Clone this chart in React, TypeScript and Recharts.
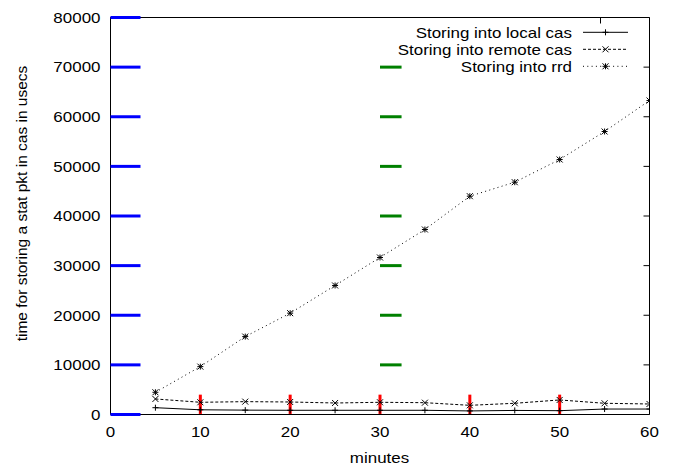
import React from 'react';
import { LineChart, Line, XAxis, YAxis, Legend, ReferenceLine } from 'recharts';

const minutes = [5, 10, 15, 20, 25, 30, 35, 40, 45, 50, 55, 60];
const localCas = [1370, 950, 880, 850, 850, 850, 850, 720, 820, 770, 1100, 1100];
const remoteCas = [3130, 2460, 2590, 2520, 2320, 2460, 2380, 1850, 2260, 2930, 2260, 2120];
const rrd = [4480, 9650, 15700, 20420, 26000, 31640, 37280, 43990, 46810, 51380, 57025, 63270];

const xTicks = [0, 10, 20, 30, 40, 50, 60];
const yTicks = [0, 10000, 20000, 30000, 40000, 50000, 60000, 70000, 80000];

const seriesNames = ['Storing into local cas', 'Storing into remote cas', 'Storing into rrd'];
const xLabel = 'minutes';
const yLabel = 'time for storing a stat pkt in cas in usecs';

const data = minutes.map((m, i) => ({ minute: m, local: localCas[i], remote: remoteCas[i], rrd: rrd[i] }));

const X_MAX = 60;
const Y_MAX = 80000;
const X_TICK_LEN = X_MAX * 0.04;
const Y_TICK_LEN = Y_MAX * 0.05;

const FONT = '"Liberation Sans", Arial, Helvetica, sans-serif';
const FS = 15;
const SX = 1.13;
const M = 3;
const TICK = 6;

type MarkerKind = 'plus' | 'cross' | 'star';

const markerPaths = (kind: MarkerKind, cx: number, cy: number) => {
  const p = `M${cx - M},${cy}L${cx + M},${cy}M${cx},${cy - M}L${cx},${cy + M}`;
  const c = `M${cx - M},${cy - M}L${cx + M},${cy + M}M${cx - M},${cy + M}L${cx + M},${cy - M}`;
  if (kind === 'plus') return p;
  if (kind === 'cross') return c;
  return p + c;
};

const makeDot = (kind: MarkerKind) => (props: any) => {
  const { cx, cy, index } = props;
  if (cx == null || cy == null) return <g key={`d-${kind}-${index}`} />;
  return <path key={`d-${kind}-${index}`} d={markerPaths(kind, cx, cy)} stroke="#000" strokeWidth={1} fill="none" />;
};

const series = [
  { key: 'local', name: seriesNames[0], dash: undefined as string | undefined, kind: 'plus' as MarkerKind },
  { key: 'remote', name: seriesNames[1], dash: '3 2', kind: 'cross' as MarkerKind },
  { key: 'rrd', name: seriesNames[2], dash: '1 3.3', kind: 'star' as MarkerKind },
];

const EmptyTick = () => <g />;

const YTick = (props: any) => {
  const { x, y, payload } = props;
  return (
    <g>
      <line x1={x + 10} y1={y} x2={x + 40} y2={y} stroke="blue" strokeWidth={3} />
      <g transform={`translate(${x},${y}) scale(${SX},1)`}>
        <text x={0} y={0} dy="0.355em" textAnchor="end" fontSize={FS} fontFamily={FONT} fill="#000">
          {payload.value}
        </text>
      </g>
    </g>
  );
};

const XTick = (props: any) => {
  const { x, y, payload } = props;
  return (
    <g transform={`translate(${x},${y}) scale(${SX},1)`}>
      <text x={0} y={0} dy="0.71em" textAnchor="middle" fontSize={FS} fontFamily={FONT} fill="#000">
        {payload.value}
      </text>
    </g>
  );
};

const LegendContent = () => (
  <svg width={260} height={80} style={{ display: 'block' }}>
    {series.map((s, i) => {
      const ly = 32.3 + i * 17;
      return (
        <g key={s.key}>
          <g transform={`translate(192,${ly + 5.2}) scale(${SX},1)`}>
            <text x={0} y={0} textAnchor="end" fontSize={FS} fontFamily={FONT} fill="#000">
              {s.name}
            </text>
          </g>
          <line x1={203} y1={ly} x2={248} y2={ly} stroke="#000" strokeWidth={1} strokeDasharray={s.dash} />
          <path d={markerPaths(s.kind, 225.5, ly)} stroke="#000" strokeWidth={1} fill="none" />
        </g>
      );
    })}
  </svg>
);

export default function App() {
  return (
    <div style={{ position: 'absolute', left: 0, top: 0, width: 675, height: 466, background: '#fff', fontFamily: FONT }}>
      <LineChart width={675} height={466} data={data} margin={{ top: 17.5, right: 25.5, bottom: 0, left: 0.5 }}>
        <XAxis
          dataKey="minute"
          type="number"
          domain={[0, X_MAX]}
          allowDataOverflow
          ticks={xTicks}
          interval={0}
          height={51.5}
          tickSize={0}
          tickMargin={12}
          tickLine={false}
          axisLine={{ stroke: '#000', strokeWidth: 1 }}
          tick={<XTick />}
          label={{
            content: () => (
              <g transform={`translate(379.5,462.5) scale(${SX},1)`}>
                <text x={0} y={0} textAnchor="middle" fontSize={FS} fontFamily={FONT} fill="#000">
                  {xLabel}
                </text>
              </g>
            ),
          }}
        />
        <YAxis
          type="number"
          domain={[0, Y_MAX]}
          allowDataOverflow
          ticks={yTicks}
          interval={0}
          width={110}
          tickSize={0}
          tickMargin={10}
          tickLine={false}
          axisLine={{ stroke: '#000', strokeWidth: 1 }}
          tick={<YTick />}
          label={{
            content: () => (
              <text
                x={21.5}
                y={203.5}
                transform="rotate(-90 21.5 203.5)"
                textAnchor="middle"
                dominantBaseline="central"
                fontSize={15.5}
                fontFamily={FONT}
                fill="#000"
              >
                {yLabel}
              </text>
            ),
          }}
        />
        <XAxis xAxisId="xt" orientation="top" mirror type="number" domain={[0, X_MAX]} allowDataOverflow
          ticks={xTicks} interval={0} height={1} tick={<EmptyTick />} tickSize={TICK}
          tickLine={{ stroke: '#000', strokeWidth: 1 }} axisLine={{ stroke: '#000', strokeWidth: 1 }} />
        <YAxis yAxisId="yr" orientation="right" mirror type="number" domain={[0, Y_MAX]} allowDataOverflow
          ticks={yTicks} interval={0} width={1} tick={<EmptyTick />} tickSize={TICK}
          tickLine={{ stroke: '#000', strokeWidth: 1 }} axisLine={{ stroke: '#000', strokeWidth: 1 }} />
        {xTicks.slice(1, -1).map((t) => (
          <ReferenceLine
            key={`xb-${t}`}
            segment={[{ x: t, y: 0 }, { x: t, y: Y_TICK_LEN }]}
            stroke="red"
            strokeWidth={3}
            ifOverflow="visible"
          />
        ))}
        {yTicks.slice(1, -1).map((t) => (
          <ReferenceLine
            key={`yl-${t}`}
            segment={[{ x: 30, y: t }, { x: 30 + X_TICK_LEN, y: t }]}
            stroke="green"
            strokeWidth={3}
            ifOverflow="visible"
          />
        ))}
        <Legend
          layout="vertical"
          align="center"
          verticalAlign="middle"
          wrapperStyle={{ left: 380, top: 0, width: 260, height: 80 }}
          content={<LegendContent />}
        />
        {series.map((s) => (
          <Line
            key={s.key}
            dataKey={s.key}
            name={s.name}
            type="linear"
            stroke="#000"
            strokeWidth={1}
            strokeDasharray={s.dash}
            dot={makeDot(s.kind)}
            activeDot={false}
            isAnimationActive={false}
          />
        ))}
      </LineChart>
    </div>
  );
}
